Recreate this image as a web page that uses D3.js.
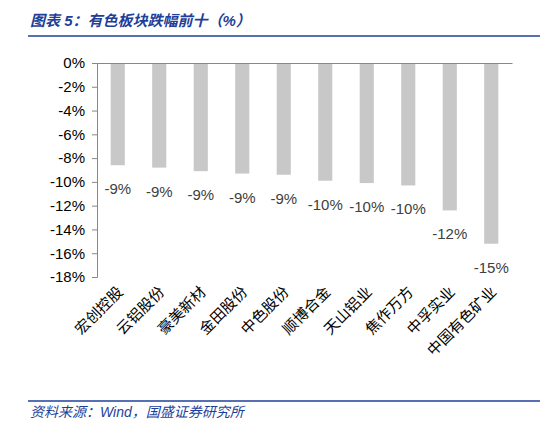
<!DOCTYPE html>
<html>
<head>
<meta charset="utf-8">
<script src="https://cdn.jsdelivr.net/npm/d3@7"></script>
<style>
  body { margin: 0; background: #fff; }
  text { font-family: "Liberation Sans", "Noto Sans CJK SC", sans-serif; }
</style>
</head>
<body>
<script>
var categories = ["宏创控股", "云铝股份", "豪美新材", "金田股份", "中色股份", "顺博合金", "天山铝业", "焦作万方", "中孚实业", "中国有色矿业"];
var values = [-8.6, -8.8, -9.1, -9.3, -9.4, -9.9, -10.1, -10.3, -12.4, -15.2];
var labels = ["-9%", "-9%", "-9%", "-9%", "-9%", "-10%", "-10%", "-10%", "-12%", "-15%"];
var yTicks = [0, -2, -4, -6, -8, -10, -12, -14, -16, -18];

var W = 548, H = 435;
var svg = d3.select("body").append("svg").attr("width", W).attr("height", H);
var blue = "#1f3f9a";

// 标题
svg.append("text").attr("x", 30).attr("y", 26)
    .text("图表 5：有色板块跌幅前十（%）")
    .attr("font-size", 15).attr("font-style", "italic").attr("font-weight", "bold").attr("fill", blue);
svg.append("line").attr("x1", 28).attr("x2", 540).attr("y1", 36).attr("y2", 36)
    .attr("stroke", blue).attr("stroke-width", 1.5);

var x = d3.scaleBand().domain(categories).range([97, 512]).paddingInner(0.66).paddingOuter(0.33);
var y = d3.scaleLinear().domain([0, -18]).range([63, 277]);

// 柱子
svg.selectAll("rect.bar").data(values).enter().append("rect")
    .attr("x", function(d, i) { return x(categories[i]); })
    .attr("y", y(0))
    .attr("width", x.bandwidth())
    .attr("height", function(d) { return y(d) - y(0); })
    .attr("fill", "#c8c8c8");

// 数值
svg.selectAll("text.val").data(values).enter().append("text")
    .attr("x", function(d, i) { return x(categories[i]) + x.bandwidth() / 2; })
    .attr("y", function(d) { return y(d) + 29; })
    .attr("text-anchor", "middle").attr("font-size", 15).attr("fill", "#404040")
    .text(function(d, i) { return labels[i]; });

// 坐标轴
var yAxis = d3.axisLeft(y).tickValues(yTicks).tickSize(5).tickFormat(function(d) { return d + "%"; });
var gy = svg.append("g").attr("transform", "translate(97,0)").call(yAxis);
gy.selectAll("text").attr("font-size", 15).attr("fill", "#000").attr("dx", "-4");
gy.select(".domain").attr("stroke", "#888");
gy.selectAll(".tick line").attr("stroke", "#888");

var xAxis = d3.axisTop(x).tickSize(0).tickFormat("");
svg.append("g").attr("transform", "translate(0," + y(0) + ")").call(xAxis)
    .select(".domain").attr("stroke", "#888");

// 类别标签
svg.selectAll("text.cat").data(categories).enter().append("text")
    .attr("transform", function(d) {
        return "translate(" + (x(d) + x.bandwidth() / 2 + 6) + ",293) rotate(-45)";
    })
    .attr("text-anchor", "end").attr("font-size", 15).attr("fill", "#000")
    .text(function(d) { return d; });

// 来源
svg.append("line").attr("x1", 28).attr("x2", 540).attr("y1", 401).attr("y2", 401)
    .attr("stroke", blue).attr("stroke-width", 1.5);
svg.append("text").attr("x", 30).attr("y", 417)
    .text("资料来源：Wind，国盛证券研究所")
    .attr("font-size", 14).attr("font-style", "italic").attr("fill", blue);
</script>
</body>
</html>
